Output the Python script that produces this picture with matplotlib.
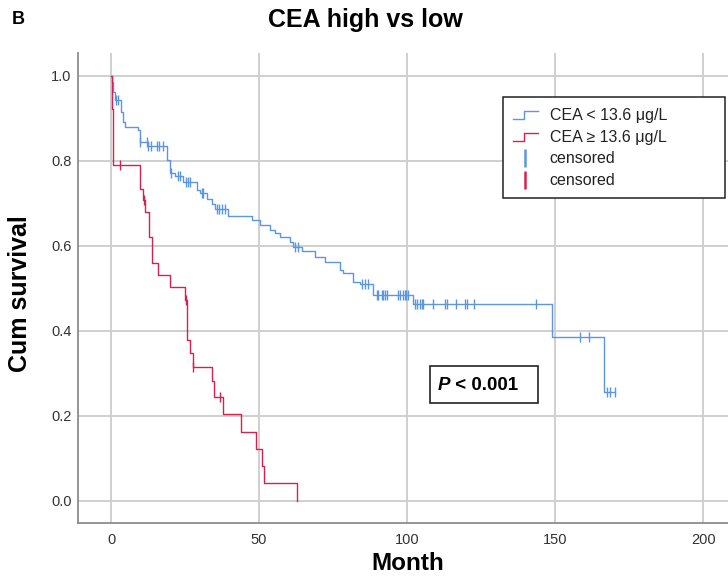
import numpy as np
import matplotlib
matplotlib.use("Agg")
import matplotlib.pyplot as plt
from matplotlib.lines import Line2D
from matplotlib.patches import Rectangle
from matplotlib.legend_handler import HandlerBase

# ---------------- data ----------------
# CEA < 13.6 ug/L (low) : step times and survival after each step
low_times = [0, 0.3, 0.8, 1.3, 3.3, 4.0, 4.8, 9.2, 9.8, 12.5, 18.8, 19.9, 21.5, 24.4,
             28.9, 30.1, 32.5, 34.0, 35.0, 39.6, 47.5, 50.3, 53.7, 55.5, 57.1, 60.5,
             61.5, 64.4, 68.9, 72.3, 77.4, 78.5, 81.9, 84.0, 88.6, 102.1, 148.9, 166.6]
low_surv = [1.0, 0.986, 0.963, 0.944, 0.916, 0.892, 0.881, 0.873, 0.845, 0.834, 0.802,
            0.772, 0.765, 0.751, 0.732, 0.724, 0.71, 0.698, 0.686, 0.671, 0.661, 0.649,
            0.638, 0.63, 0.622, 0.61, 0.598, 0.587, 0.575, 0.563, 0.544, 0.536, 0.516,
            0.51, 0.485, 0.463, 0.385, 0.257]
low_end = 170.3
low_censor = [1.7, 2.5, 9.9, 12.1, 12.6, 13.5, 15.4, 16.2, 17.7, 20.1, 22.7, 23.3,
              25.3, 26.1, 26.7, 30.6, 31.2, 35.7, 36.6, 37.4, 38.5, 62.2, 63.0,
              84.7, 85.8, 86.9, 89.8, 90.3, 91.4, 92.0, 92.6, 93.1, 97.1, 97.6, 98.7,
              99.3, 99.8, 100.4, 102.7, 103.3, 104.2, 105.0, 105.5, 108.9, 112.8, 113.6,
              116.6, 119.6, 120.2, 122.6, 143.6, 158.4, 161.5, 167.4, 168.6, 170.3]

# CEA >= 13.6 ug/L (high)
high_times = [0, 0.2, 0.8, 9.9, 10.7, 11.5, 12.9, 13.7, 16.0, 19.9, 25.0, 25.8, 26.7,
              27.8, 34.0, 34.9, 37.9, 43.9, 48.9, 50.9, 51.8, 62.9]
high_surv = [1.0, 0.922, 0.79, 0.735, 0.708, 0.68, 0.62, 0.561, 0.532, 0.504, 0.473,
             0.379, 0.347, 0.316, 0.281, 0.245, 0.205, 0.163, 0.122, 0.082, 0.043, 0.0]
high_end = 62.9
high_censor = [3.0, 11.0, 25.3, 27.8, 36.8]

x_ticks = [0, 50, 100, 150, 200]
y_ticks = [0.0, 0.2, 0.4, 0.6, 0.8, 1.0]
legend_labels = ["CEA < 13.6 \u03bcg/L", "CEA \u2265 13.6 \u03bcg/L", "censored", "censored"]

BLUE = "#5a96e3"
RED = "#d9204d"
FONT = "Liberation Sans"
NARROW = ["Liberation Sans Narrow", "Liberation Sans", "DejaVu Sans"]

# ---------------- figure ----------------
W, H = 728, 579
fig = plt.figure(figsize=(W / 100, H / 100), dpi=100)
ax = fig.add_axes([78 / W, 1 - 523 / H, 1 - 78 / W, (523 - 53) / H])


def step_xy(times, surv, end):
    t = list(times) + [end]
    s = list(surv) + [surv[-1]]
    return t, s


def surv_at(times, surv, t):
    idx = np.searchsorted(np.asarray(times), t, side="right") - 1
    return np.asarray(surv)[idx]


for times, surv, end, cens, col in [
    (low_times, low_surv, low_end, low_censor, BLUE),
    (high_times, high_surv, high_end, high_censor, RED),
]:
    t, s = step_xy(times, surv, end)
    ax.step(t, s, where="post", color=col, lw=1.0, zorder=3)
    cy = surv_at(times, surv, np.asarray(cens))
    ax.plot(cens, cy, linestyle="None", marker="|", markersize=6.5,
            markeredgewidth=1.0, color=col, zorder=4)

ax.set_xlim(-11.15, 208.4)
ax.set_ylim(-0.052, 1.054)
ax.set_xticks(x_ticks)
ax.set_yticks(y_ticks)
ax.set_xticklabels([str(v) for v in x_ticks])
ax.set_yticklabels([f"{v:.1f}" for v in y_ticks])
ax.grid(True, color="#cfcfcf", lw=1.4, zorder=0)
ax.set_axisbelow(True)
for sp in ["top", "right"]:
    ax.spines[sp].set_visible(False)
for sp in ["left", "bottom"]:
    ax.spines[sp].set_color("#8c8c8c")
    ax.spines[sp].set_linewidth(1.3)
ax.tick_params(axis="both", length=0, labelsize=10.5, labelcolor="#333333")
ax.tick_params(axis="x", pad=7)
ax.tick_params(axis="y", pad=4.5)
for lab in ax.get_xticklabels() + ax.get_yticklabels():
    lab.set_family(NARROW)

# ---------------- texts ----------------
fig.text(365 / W, 1 - 20 / H, "CEA high vs low", ha="center", va="center",
         fontsize=18, fontweight="bold", family=FONT)
fig.text(18 / W, 1 - 20 / H, "B", ha="center", va="center",
         fontsize=13, fontweight="bold", family=FONT)
fig.text(20 / W, 1 - 294 / H, "Cum survival", ha="center", va="center",
         rotation=90, fontsize=18, fontweight="bold", family=FONT)
fig.text(408 / W, 1 - 563 / H, "Month", ha="center", va="center",
         fontsize=17.5, fontweight="bold", family=FONT)

# P-value box
fig.patches.append(Rectangle((430 / W, 1 - 403 / H), 108 / W, 37 / H,
                             transform=fig.transFigure, facecolor="white",
                             edgecolor="#222222", lw=1.2, zorder=5))
pt = fig.text(438 / W, 1 - 385 / H, "P", ha="left", va="center", fontsize=13.5,
              fontweight="bold", fontstyle="italic", family=FONT, zorder=6)
fig.texts.append(plt.Annotation(" < 0.001", xy=(1, 0.5), xycoords=pt, ha="left",
                                va="center", fontsize=13.5, fontweight="bold",
                                family=FONT, zorder=6))
fig.texts[-1].set_figure(fig)

# ---------------- legend ----------------
fig.patches.append(Rectangle((503 / W, 1 - 198 / H), 222 / W, 101 / H,
                             transform=fig.transFigure, facecolor="white",
                             edgecolor="#222222", lw=1.1, zorder=5))


class StepHandler(HandlerBase):
    def create_artists(self, legend, orig_handle, xdescent, ydescent, width,
                       height, fontsize, trans):
        x0 = -xdescent
        xs = [x0, x0 + width * 0.45, x0 + width * 0.45, x0 + width]
        ys = [0.1 * height, 0.1 * height, 0.8 * height, 0.8 * height]
        ln = Line2D(xs, ys, color=orig_handle.get_color(), lw=1.0)
        ln.set_transform(trans)
        return [ln]


h_low = Line2D([], [], color=BLUE)
h_high = Line2D([], [], color=RED)
h_c_low = Line2D([], [], color=BLUE, marker="|", linestyle="None",
                 markersize=13, markeredgewidth=1.8)
h_c_high = Line2D([], [], color=RED, marker="|", linestyle="None",
                  markersize=13, markeredgewidth=1.8)
leg = fig.legend([h_low, h_high, h_c_low, h_c_high], legend_labels,
                 loc="upper left", bbox_to_anchor=(513 / W, 1 - 108 / H),
                 bbox_transform=fig.transFigure, frameon=False,
                 handler_map={h_low: StepHandler(), h_high: StepHandler()},
                 handlelength=1.55, handletextpad=0.75, labelspacing=0.42,
                 borderpad=0, borderaxespad=0,
                 prop={"family": FONT, "size": 11.5})
leg.set_zorder(7)
for t in leg.get_texts():
    t.set_color("#222222")

fig.savefig("out.png", dpi=100)
